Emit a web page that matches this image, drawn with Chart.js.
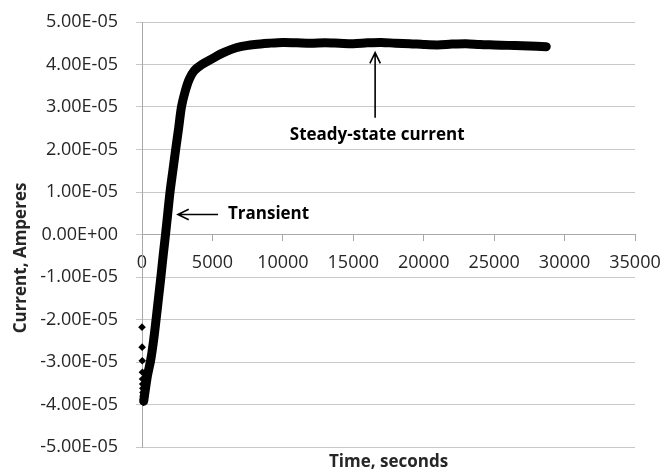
<!DOCTYPE html>
<html>
<head>
<meta charset="utf-8">
<script src="https://cdn.jsdelivr.net/npm/chart.js@4"></script>
<style>
  html, body { margin: 0; padding: 0; background: #fff; }
  #wrap { width: 666px; height: 472px; position: relative; }
</style>
</head>
<body>
<div id="wrap"><canvas id="chart"></canvas></div>
<script>
// First readings: current drops just after switch-on (points only)
const startTimes = [0, 10, 20, 30, 40, 50, 60, 70, 80, 90, 100];
const startCurrent = [-2.18e-5, -2.65e-5, -2.97e-5, -3.24e-5, -3.40e-5, -3.52e-5,
                      -3.62e-5, -3.72e-5, -3.80e-5, -3.88e-5, -3.95e-5];

// Transient rise and steady state
const curveTimes = [120, 250, 400, 620, 820, 1000, 1170, 1340, 1500, 1670, 1830, 1990,
                    2190, 2390, 2600, 2800, 3050, 3350, 3700, 4250, 4900, 5600, 6300,
                    7000, 8000, 9000, 10000, 11000, 12000, 13000, 14000, 15000, 16000,
                    17000, 18000, 19000, 20000, 21000, 22000, 23000, 24000, 25000,
                    26000, 27000, 28000, 28700];
const curveCurrent = [-3.92e-5, -3.62e-5, -3.30e-5, -2.95e-5, -2.50e-5, -2.00e-5, -1.50e-5,
                      -1.00e-5, -0.50e-5, 0.00e-5, 0.50e-5, 1.00e-5, 1.50e-5, 2.00e-5,
                      2.50e-5, 3.00e-5, 3.35e-5, 3.65e-5, 3.85e-5, 4.00e-5, 4.12e-5,
                      4.25e-5, 4.35e-5, 4.42e-5, 4.47e-5, 4.50e-5, 4.52e-5, 4.51e-5,
                      4.50e-5, 4.51e-5, 4.50e-5, 4.49e-5, 4.51e-5, 4.52e-5, 4.50e-5,
                      4.49e-5, 4.47e-5, 4.46e-5, 4.48e-5, 4.49e-5, 4.47e-5, 4.46e-5,
                      4.45e-5, 4.44e-5, 4.43e-5, 4.42e-5];

// Axis ticks
const xTickValues = [0, 5000, 10000, 15000, 20000, 25000, 30000, 35000];
const yTickValues = [-5e-5, -4e-5, -3e-5, -2e-5, -1e-5, 0, 1e-5, 2e-5, 3e-5, 4e-5, 5e-5];

const FONT = '"Open Sans", "Liberation Sans", sans-serif';
const TEXT = '#262626';

// Excel style 0.00E+00
function excelSci(v) {
  if (Math.abs(v) < 1e-15) return '0.00E+00';
  const parts = v.toExponential(2).split('e');
  const exp = parseInt(parts[1], 10);
  return parts[0] + 'E' + (exp < 0 ? '-' : '+') + String(Math.abs(exp)).padStart(2, '0');
}

function toPoints(xs, ys) {
  return xs.map((x, i) => ({ x: x, y: ys[i] }));
}

function drawArrow(ctx, x1, y1, x2, y2) {
  const ang = Math.atan2(y2 - y1, x2 - x1);
  const len = 12, spread = 0.45;
  ctx.beginPath();
  ctx.moveTo(x1, y1);
  ctx.lineTo(x2, y2);
  ctx.moveTo(x2 - len * Math.cos(ang - spread), y2 - len * Math.sin(ang - spread));
  ctx.lineTo(x2, y2);
  ctx.lineTo(x2 - len * Math.cos(ang + spread), y2 - len * Math.sin(ang + spread));
  ctx.stroke();
}

// Axis titles and the two notes
const notesPlugin = {
  id: 'notes',
  afterDraw(chart) {
    const ctx = chart.ctx;
    const xs = chart.scales.x, ys = chart.scales.y;
    const area = chart.chartArea;
    ctx.save();
    ctx.fillStyle = '#000';
    ctx.strokeStyle = '#000';
    ctx.lineWidth = 1.6;

    // Transient
    const ty = ys.getPixelForValue(0.47e-5);
    drawArrow(ctx, xs.getPixelForValue(5400), ty, xs.getPixelForValue(2550), ty);
    ctx.font = 'bold 17px ' + FONT;
    ctx.textAlign = 'left';
    ctx.textBaseline = 'middle';
    ctx.fillText('Transient', xs.getPixelForValue(6100), ty);

    // Steady-state current
    const sx = xs.getPixelForValue(16550);
    drawArrow(ctx, sx, ys.getPixelForValue(2.75e-5), sx, ys.getPixelForValue(4.28e-5));
    ctx.textAlign = 'center';
    ctx.fillText('Steady-state current', xs.getPixelForValue(16700), ys.getPixelForValue(2.33e-5));

    // axis titles
    ctx.fillStyle = TEXT;
    ctx.fillText('Time, seconds', (area.left + area.right) / 2, 462);
    ctx.translate(21, 258);
    ctx.rotate(-Math.PI / 2);
    ctx.fillText('Current, Amperes', 0, 0);
    ctx.restore();
  }
};

const ctx = document.getElementById('chart').getContext('2d');
const currentChart = new Chart(ctx, {
  type: 'scatter',
  data: {
    datasets: [{
      label: 'start',
      data: toPoints(startTimes, startCurrent),
      pointStyle: 'rectRot',
      pointRadius: 3.8,
      pointBorderWidth: 0,
      backgroundColor: '#000',
      borderColor: '#000',
      showLine: false,
      clip: false
    }, {
      label: 'current',
      data: toPoints(curveTimes, curveCurrent),
      showLine: true,
      borderColor: '#000',
      borderWidth: 9,
      borderCapStyle: 'round',
      borderJoinStyle: 'round',
      tension: 0.3,
      pointRadius: 0,
      clip: false
    }]
  },
  options: {
    responsive: true,
    maintainAspectRatio: false,
    animation: false,
    layout: { padding: { left: 0, right: 31, top: 22, bottom: 25 } },
    plugins: {
      legend: { display: false },
      tooltip: { enabled: false }
    },
    scales: {
      x: {
        type: 'linear',
        position: { y: 0 },
        min: 0,
        max: 35000,
        afterBuildTicks: (scale) => { scale.ticks = xTickValues.map(v => ({ value: v })); },
        afterFit: (scale) => { scale.paddingLeft = 0; scale.paddingRight = 0; },
        grid: { drawOnChartArea: false, drawTicks: true, tickLength: 6, color: '#a8a8a8' },
        border: { display: true, color: '#a8a8a8' },
        ticks: {
          maxRotation: 0,
          autoSkip: false,
          padding: 12,
          color: TEXT,
          font: { family: FONT, size: 18 },
          callback: (v) => String(v)
        }
      },
      y: {
        type: 'linear',
        min: -5e-5,
        max: 5e-5,
        afterBuildTicks: (scale) => { scale.ticks = yTickValues.map(v => ({ value: v })); },
        afterFit: (scale) => { scale.width = 142; scale.paddingTop = 0; scale.paddingBottom = 0; },
        grid: { color: '#c8c8c8', tickLength: 6 },
        border: { display: true, color: '#a8a8a8' },
        ticks: {
          padding: 18,
          color: TEXT,
          font: { family: FONT, size: 18 },
          callback: (v) => excelSci(v)
        }
      }
    }
  },
  plugins: [notesPlugin]
});
</script>
</body>
</html>
